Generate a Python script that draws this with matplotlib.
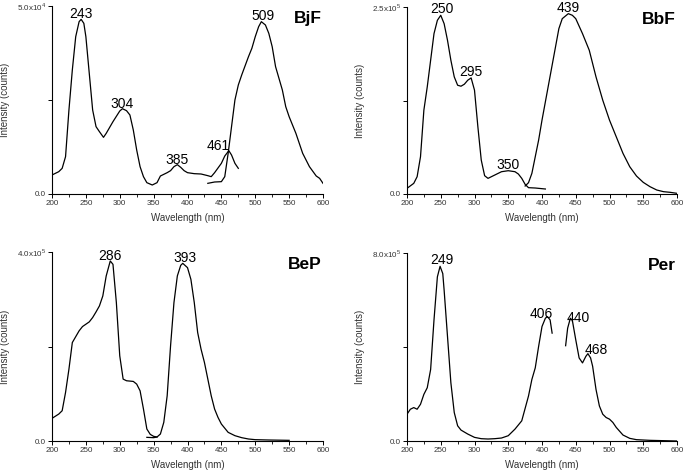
import numpy as np
import matplotlib
matplotlib.use("Agg")
import matplotlib.pyplot as plt
from matplotlib.ticker import MultipleLocator

plt.rcParams['font.family'] = ['Liberation Sans', 'DejaVu Sans']
plt.rcParams['mathtext.fontset'] = 'custom'
plt.rcParams['mathtext.rm'] = 'Liberation Sans'

# ---------------- data (wavelength nm, intensity counts) ----------------
bjf_ex_x = [200, 210, 215, 220, 225, 230, 235, 240, 243, 247, 250, 255, 260, 265, 270, 276, 280, 290, 300, 304,
            310, 315, 320, 325, 330, 335, 340, 348, 355, 360, 370, 375, 380, 385, 390, 395, 400, 410, 420, 430,
            435, 440, 450, 455, 461, 465, 470, 475]
bjf_ex_y = [5053, 5940, 6826, 9929, 22340, 32980, 41840, 45830, 46450, 45390, 41840, 32090, 22340, 17910, 16580,
            15070, 16130, 19240, 22070, 22690, 22160, 21010, 17020, 11700, 7269, 4610, 3014, 2393, 3014, 4787,
            5674, 6205, 7269, 7800, 7092, 6205, 5674, 5408, 5319, 4876, 4610, 5674, 8156, 10100, 11520, 10370,
            8156, 6826]
bjf_em_x = [430, 440, 450, 455, 460, 465, 470, 475, 480, 490, 495, 500, 505, 509, 515, 520, 525, 530, 540, 545,
            550, 560, 565, 570, 580, 590, 595, 600]
bjf_em_y = [2837, 3191, 3280, 4610, 10815, 17910, 25000, 28990, 31650, 36520, 38740, 41840, 44500, 45830, 44950,
            42730, 39180, 33860, 27660, 23230, 20570, 16130, 13470, 10815, 7269, 4787, 4167, 2837]

bbf_ex_x = [200, 210, 215, 220, 225, 230, 235, 240, 245, 250, 255, 260, 265, 270, 275, 280, 285, 290, 295, 300,
            305, 310, 315, 320, 330, 340, 350, 360, 365, 370, 375, 380, 390, 400, 405]
bbf_ex_y = [7562, 14230, 23130, 49820, 112100, 143200, 178800, 214400, 232200, 238900, 227700, 205500, 178800,
            156600, 145400, 144100, 146800, 152100, 155200, 138800, 89850, 45370, 24460, 20900, 25350, 29800,
            31140, 29800, 26690, 20900, 12900, 8451, 8006, 7117, 6672]
bbf_em_x = [375, 380, 385, 390, 395, 400, 410, 420, 425, 430, 439, 445, 450, 460, 470, 480, 490, 500, 510, 520,
            530, 540, 550, 560, 570, 580, 590, 600]
bbf_em_y = [10680, 15120, 27580, 49820, 72060, 98750, 147700, 196600, 221100, 234400, 241100, 238900, 234400,
            214400, 192200, 156600, 125400, 98750, 76510, 54270, 36470, 24020, 15570, 9786, 5338, 3114, 2224, 890]

bep_ex_x = [200, 210, 215, 220, 225, 230, 240, 245, 255, 260, 265, 270, 275, 280, 286, 290, 295, 300, 305, 310,
            320, 325, 330, 335, 340, 345, 350, 355]
bep_ex_y = [47890, 57040, 64080, 102800, 152100, 208400, 233100, 242200, 252100, 261300, 273200, 285900, 307000,
            349300, 381000, 373900, 292900, 180300, 131000, 127500, 126100, 120400, 106300, 67600, 25350, 14080,
            9859, 8451]
bep_em_x = [340, 350, 355, 360, 365, 370, 375, 380, 385, 390, 393, 400, 405, 410, 415, 420, 425, 430, 435, 440,
            445, 450, 460, 470, 480, 490, 500, 520, 550]
bep_em_y = [7746, 7042, 8451, 14790, 39440, 95770, 201400, 292900, 349300, 371800, 376000, 366900, 342200,
            292900, 229600, 194400, 166200, 131000, 95770, 67600, 50000, 35910, 18310, 11270, 7042, 4225, 2817,
            2113, 1408]

per_ex_x = [200, 205, 210, 215, 220, 225, 230, 235, 240, 245, 249, 253, 255, 260, 265, 270, 275, 280, 290, 300,
            310, 320, 330, 340, 350, 360, 370, 380, 385, 390, 395, 400, 405, 408, 412, 415]
per_ex_y = [114000, 135200, 142200, 135200, 156300, 198500, 226700, 304100, 515300, 698400, 743400, 712400,
            642000, 444900, 247800, 121100, 64770, 46460, 29570, 15490, 9856, 8448, 9856, 12670, 22530, 50690,
            85890, 191500, 261900, 311200, 402700, 487200, 522400, 529400, 515300, 459000]
per_em_x = [435, 438, 442, 445, 450, 455, 460, 465, 468, 472, 475, 480, 485, 490, 495, 500, 505, 510, 520, 530,
            540, 560, 580, 600]
per_em_y = [405500, 480100, 522400, 512600, 430800, 353400, 332300, 360400, 371700, 353400, 318200, 219600,
            149200, 114000, 99970, 92930, 78850, 57730, 25340, 11260, 5632, 2816, 1408, 0]

names = ["BjF", "BbF", "BeP", "Per"]
ymax = [5.0e4, 2.5e5, 4.0e5, 8.0e5]
ymax_labels = [r"5.0x10$^{4}$", r"2.5x10$^{5}$", r"4.0x10$^{5}$", r"8.0x10$^{5}$"]
peaks = [[243, 304, 385, 461, 509], [250, 295, 350, 439], [286, 393], [249, 406, 440, 468]]
# which curve each peak label belongs to (0 = first, 1 = second)
peak_curve = [[0, 0, 0, 0, 1], [0, 0, 0, 1], [0, 1], [0, 0, 1, 1]]

curves = [
    [(bjf_ex_x, bjf_ex_y), (bjf_em_x, bjf_em_y)],
    [(bbf_ex_x, bbf_ex_y), (bbf_em_x, bbf_em_y)],
    [(bep_ex_x, bep_ex_y), (bep_em_x, bep_em_y)],
    [(per_ex_x, per_ex_y), (per_em_x, per_em_y)],
]

# label offsets (points) — styling only
label_dx = [[0, 0, 0, -8, 1], [1, 0, 0, 0], [0, 1.5], [1.5, -3.5, 7, 6]]
label_dy = [[0.7, 0.3, 0.5, 0.5, 1.2], [1.7, 1.2, 1.0, 1.5], [0.7, 1.2], [1.4, 0, 1.2, 0]]

W, H = 685, 472
fig = plt.figure(figsize=(W / 100, H / 100), dpi=100)
boxes = [(52, 6, 323, 194), (407, 7, 677, 194), (52, 252, 323, 441), (407, 253, 677, 441)]

for i, (l, t, r, b) in enumerate(boxes):
    ax = fig.add_axes([l / W, (H - b) / H, (r - l) / W, (b - t) / H])
    for (xs, ys) in curves[i]:
        ax.plot(xs, ys, color='black', lw=0.9)
    ax.set_xlim(200, 600)
    ax.set_ylim(0, ymax[i])
    for s in ['top', 'right']:
        ax.spines[s].set_visible(False)
    for s in ['left', 'bottom']:
        ax.spines[s].set_linewidth(0.8)
    ax.xaxis.set_major_locator(MultipleLocator(50))
    ax.xaxis.set_minor_locator(MultipleLocator(25))
    ax.set_yticks([0, ymax[i] / 2, ymax[i]])
    ax.set_yticklabels(["0.0", "", ymax_labels[i]])
    ax.tick_params(axis='both', which='major', direction='out', length=3, width=0.7,
                   labelsize=5.8, labelcolor='#333333', pad=1.5)
    ax.tick_params(axis='both', which='minor', direction='out', length=1.8, width=0.6)
    ax.set_xlabel("Wavelength (nm)", fontsize=7, color='#333333')
    ax.set_ylabel("Intensity (counts)", fontsize=7, color='#333333')
    bh = b - t
    bw = r - l
    ax.xaxis.set_label_coords(0.5, -19.0 / bh)
    ax.yaxis.set_label_coords(-42.0 / bw, 0.5)
    ax.text(0.995, 0.975, names[i], transform=ax.transAxes, ha='right', va='top',
            fontsize=12.5, fontweight='bold')
    for j, p in enumerate(peaks[i]):
        xs, ys = curves[i][peak_curve[i][j]]
        yv = np.interp(p, xs, ys)
        ax.annotate(str(p), xy=(p, yv), xytext=(label_dx[i][j], label_dy[i][j]),
                    textcoords='offset points', ha='center', va='baseline', fontsize=10,
                    annotation_clip=False)

fig.savefig("out.png", dpi=100)
